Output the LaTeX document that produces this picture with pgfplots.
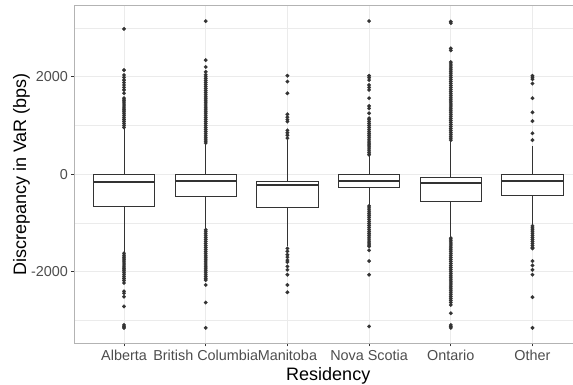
\documentclass[border=0pt]{standalone}
\usepackage{pgfplots}
\pgfplotsset{compat=1.18}
\usepackage{fontspec}
\setmainfont{Liberation Sans}
\definecolor{gtwenty}{HTML}{333333}
\definecolor{gthirty}{HTML}{4D4D4D}
\definecolor{ggrid}{HTML}{EBEBEB}
\definecolor{gborder}{HTML}{B3B3B3}
\pgfplotsset{
  wh/.style={gtwenty, line width=1bp, mark=none},
  bxs/.style={draw=gtwenty, fill=white, line width=1bp, line cap=rect, mark=none},
  md/.style={gtwenty, line width=2bp, mark=none},
  out/.style={only marks, mark=*, mark size=1.9bp, draw=gtwenty, fill=gtwenty, mark options={line width=0.1bp}},
}
\begin{document}
\begin{tikzpicture}
\begin{axis}[name=ax,
  scale only axis, width=506.5bp, height=337bp,
  xmin=0.4, xmax=6.6, ymin=-3460, ymax=3450,
  xtick={1,2,3,4,5,6},
  xticklabels={Alberta,British Columbia,Manitoba,Nova Scotia,Ontario,Other},
  ytick={-2000,0,2000}, yticklabels={-2000,0,2000},
  minor ytick={-3000,-1000,1000,3000},
  xmajorgrids, ymajorgrids, yminorgrids,
  major grid style={ggrid, line width=0.9bp},
  minor grid style={ggrid, line width=0.5bp},
  axis line style={gborder, line width=1bp},
  tick pos=left, tick align=outside,
  major tick length=3.5bp, minor tick length=0pt,
  tick style={gtwenty, line width=0.8bp},
  ticklabel style={font=\fontsize{14.4bp}{16bp}\selectfont, text=gthirty},
  xlabel={Residency}, ylabel={Discrepancy in VaR (bps)},
  every axis x label/.style={at={(rel axis cs:0.5,0)}, anchor=center, yshift=-32.5bp, font=\fontsize{18bp}{20bp}\selectfont, text=black},
  every axis y label/.style={at={(rel axis cs:0,0.5)}, anchor=center, xshift=-53.5bp, rotate=90, font=\fontsize{18bp}{20bp}\selectfont, text=black},
]
% Alberta: lw=-1615 q1=-660 med=-150 q3=0 uw=955
\addplot[wh] coordinates {(1,-1615)(1,-660)};
\addplot[wh] coordinates {(1,0)(1,955)};
\addplot[bxs] coordinates {(0.625,-660)(1.375,-660)(1.375,0)(0.625,0)(0.625,-660)};
\addplot[md] coordinates {(0.625,-150)(1.375,-150)};
\addplot[out] coordinates {(1,960)(1,1000)(1,1040)(1,1080)(1,1120)(1,1160)(1,1200)(1,1240)(1,1280)(1,1320)(1,1360)(1,1400)(1,1440)(1,1480)(1,1520)(1,1560)(1,1660)(1,1730)(1,1780)(1,1830)(1,1880)(1,1930)(1,1985)(1,2035)(1,2135)(1,2980)
(1,-1620)(1,-1660)(1,-1700)(1,-1740)(1,-1780)(1,-1820)(1,-1860)(1,-1900)(1,-1940)(1,-1980)(1,-2020)(1,-2060)(1,-2100)(1,-2140)(1,-2180)(1,-2230)(1,-2400)(1,-2440)(1,-2510)(1,-2710)(1,-3090)(1,-3120)(1,-3150)};
% British Columbia: lw=-1140 q1=-465 med=-135 q3=0 uw=640
\addplot[wh] coordinates {(2,-1140)(2,-465)};
\addplot[wh] coordinates {(2,0)(2,640)};
\addplot[bxs] coordinates {(1.625,-465)(2.375,-465)(2.375,0)(1.625,0)(1.625,-465)};
\addplot[md] coordinates {(1.625,-135)(2.375,-135)};
\addplot[out] coordinates {(2,640)(2,680)(2,720)(2,760)(2,800)(2,840)(2,880)(2,920)(2,960)(2,1000)(2,1040)(2,1080)(2,1120)(2,1160)(2,1200)(2,1240)(2,1280)(2,1320)(2,1360)(2,1400)(2,1440)(2,1480)(2,1520)(2,1560)(2,1600)(2,1640)(2,1680)(2,1720)(2,1760)(2,1800)(2,1840)(2,1880)(2,1920)(2,1960)(2,2000)(2,2040)(2,2100)(2,2200)(2,2340)(2,3140)
(2,-1140)(2,-1180)(2,-1220)(2,-1260)(2,-1300)(2,-1340)(2,-1380)(2,-1420)(2,-1460)(2,-1500)(2,-1540)(2,-1580)(2,-1620)(2,-1660)(2,-1700)(2,-1740)(2,-1780)(2,-1820)(2,-1860)(2,-1900)(2,-1940)(2,-1980)(2,-2020)(2,-2060)(2,-2100)(2,-2140)(2,-2170)(2,-2270)(2,-2630)(2,-3150)};
% Manitoba: lw=-1480 q1=-675 med=-230 q3=-140 uw=700
\addplot[wh] coordinates {(3,-1480)(3,-675)};
\addplot[wh] coordinates {(3,-140)(3,700)};
\addplot[bxs] coordinates {(2.625,-675)(3.375,-675)(3.375,-140)(2.625,-140)(2.625,-675)};
\addplot[md] coordinates {(2.625,-230)(3.375,-230)};
\addplot[out] coordinates {(3,740)(3,800)(3,850)(3,900)(3,1080)(3,1120)(3,1170)(3,1230)(3,1660)(3,1900)(3,2020)
(3,-1520)(3,-1580)(3,-1650)(3,-1700)(3,-1760)(3,-1800)(3,-1890)(3,-1960)(3,-2060)(3,-2270)(3,-2420)};
% Nova Scotia: lw=-650 q1=-275 med=-135 q3=0 uw=400
\addplot[wh] coordinates {(4,-650)(4,-275)};
\addplot[wh] coordinates {(4,0)(4,400)};
\addplot[bxs] coordinates {(3.625,-275)(4.375,-275)(4.375,0)(3.625,0)(3.625,-275)};
\addplot[md] coordinates {(3.625,-135)(4.375,-135)};
\addplot[out] coordinates {(4,400)(4,440)(4,480)(4,520)(4,560)(4,600)(4,640)(4,680)(4,720)(4,760)(4,800)(4,840)(4,880)(4,920)(4,960)(4,1000)(4,1040)(4,1080)(4,1120)(4,1150)(4,1250)(4,1350)(4,1400)(4,1560)(4,1730)(4,1780)(4,1830)(4,1930)(4,1980)(4,2020)(4,3140)
(4,-650)(4,-690)(4,-730)(4,-770)(4,-810)(4,-850)(4,-890)(4,-930)(4,-970)(4,-1010)(4,-1050)(4,-1090)(4,-1130)(4,-1170)(4,-1210)(4,-1250)(4,-1290)(4,-1330)(4,-1370)(4,-1410)(4,-1450)(4,-1480)(4,-1560)(4,-1780)(4,-2060)(4,-3120)};
% Ontario: lw=-1310 q1=-560 med=-170 q3=-60 uw=700
\addplot[wh] coordinates {(5,-1310)(5,-560)};
\addplot[wh] coordinates {(5,-60)(5,700)};
\addplot[bxs] coordinates {(4.625,-560)(5.375,-560)(5.375,-60)(4.625,-60)(4.625,-560)};
\addplot[md] coordinates {(4.625,-170)(5.375,-170)};
\addplot[out] coordinates {(5,700)(5,740)(5,780)(5,820)(5,860)(5,900)(5,940)(5,980)(5,1020)(5,1060)(5,1100)(5,1140)(5,1180)(5,1220)(5,1260)(5,1300)(5,1340)(5,1380)(5,1420)(5,1460)(5,1500)(5,1540)(5,1580)(5,1620)(5,1660)(5,1700)(5,1740)(5,1780)(5,1820)(5,1860)(5,1900)(5,1940)(5,1980)(5,2020)(5,2060)(5,2100)(5,2140)(5,2180)(5,2220)(5,2260)(5,2300)(5,2540)(5,2580)(5,3100)(5,3130)
(5,-1310)(5,-1350)(5,-1390)(5,-1430)(5,-1470)(5,-1510)(5,-1550)(5,-1590)(5,-1630)(5,-1670)(5,-1710)(5,-1750)(5,-1790)(5,-1830)(5,-1870)(5,-1910)(5,-1950)(5,-1990)(5,-2030)(5,-2070)(5,-2110)(5,-2150)(5,-2190)(5,-2230)(5,-2270)(5,-2310)(5,-2350)(5,-2390)(5,-2430)(5,-2470)(5,-2510)(5,-2550)(5,-2590)(5,-2630)(5,-2680)(5,-2850)(5,-3090)(5,-3120)(5,-3150)};
% Other: lw=-1060 q1=-430 med=-135 q3=0 uw=570
\addplot[wh] coordinates {(6,-1060)(6,-430)};
\addplot[wh] coordinates {(6,0)(6,570)};
\addplot[bxs] coordinates {(5.625,-430)(6.375,-430)(6.375,0)(5.625,0)(5.625,-430)};
\addplot[md] coordinates {(5.625,-135)(6.375,-135)};
\addplot[out] coordinates {(6,700)(6,840)(6,1090)(6,1270)(6,1560)(6,1860)(6,1950)(6,1990)(6,2020)
(6,-1060)(6,-1100)(6,-1140)(6,-1180)(6,-1220)(6,-1260)(6,-1300)(6,-1340)(6,-1380)(6,-1420)(6,-1460)(6,-1500)(6,-1520)(6,-1780)(6,-1870)(6,-1960)(6,-2060)(6,-2520)(6,-3150)};
\end{axis}
\pgfresetboundingbox
\path[use as bounding box] ([xshift=-75bp,yshift=-42bp]ax.south west) rectangle ([xshift=498bp,yshift=343bp]ax.south west);
\end{tikzpicture}
\end{document}
